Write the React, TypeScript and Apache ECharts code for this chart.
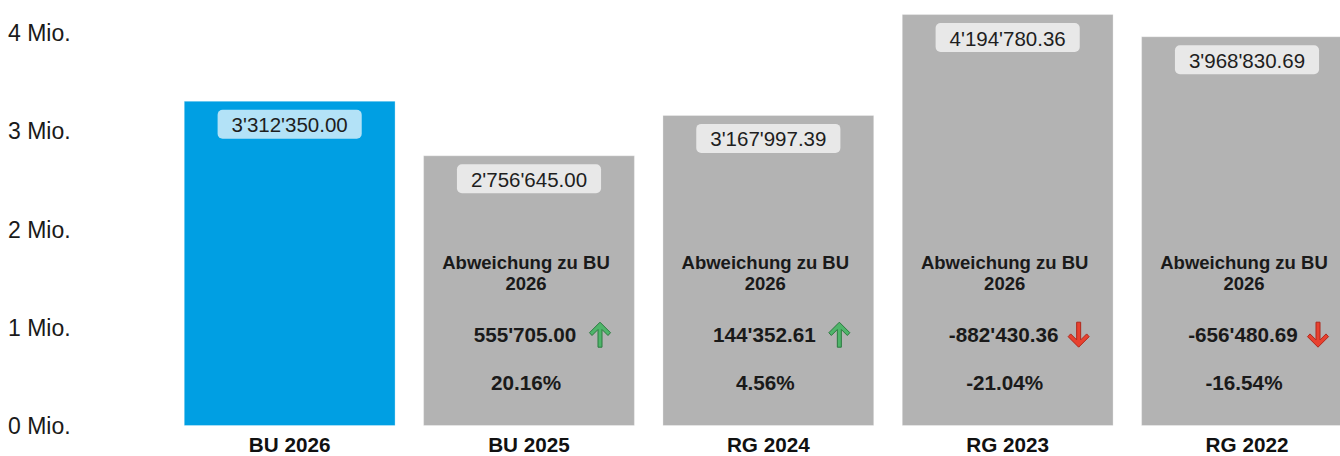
import React, { useEffect, useRef } from "react";
import * as echarts from "echarts";

const categories = ["BU 2026", "BU 2025", "RG 2024", "RG 2023", "RG 2022"];
const values = [3312350.0, 2756645.0, 3167997.39, 4194780.36, 3968830.69];
const deviations = [null, 555705.0, 144352.61, -882430.36, -656480.69];
const deviationPct = [null, 20.16, 4.56, -21.04, -16.54];
const yTickValues = [0, 1000000, 2000000, 3000000, 4000000];
const deviationHeader = "Abweichung zu BU\n2026";

const FONT = '"Liberation Sans", Arial, Helvetica, sans-serif';
const BLUE = "#009fe3";
const GRAY = "#b3b3b3";

function fmt(v: number): string {
  const neg = v < 0;
  const s = Math.abs(v).toFixed(2);
  const parts = s.split(".");
  const withSep = parts[0].replace(/\B(?=(\d{3})+(?!\d))/g, "'");
  return (neg ? "-" : "") + withSep + "." + parts[1];
}

const arrowUp: number[][] = [
  [0, -12.5],
  [10.5, -2],
  [8, 0.8],
  [2, -5.2],
  [2, 12.5],
  [-2, 12.5],
  [-2, -5.2],
  [-8, 0.8],
  [-10.5, -2],
];
const arrowDown = arrowUp.map((p) => [p[0], -p[1]]);

export default function App() {
  const ref = useRef<HTMLDivElement>(null);

  useEffect(() => {
    if (!ref.current) return;
    const chart = echarts.init(ref.current, null, { renderer: "svg" });

    const devIdx: number[] = [];
    categories.forEach((_, i) => {
      if (deviations[i] !== null) devIdx.push(i);
    });
    const devData = devIdx.map((i) => [categories[i], 0]);

    chart.setOption({
      animation: false,
      backgroundColor: "#ffffff",
      grid: { left: 170, right: 33.33, top: 13.56, bottom: 30, containLabel: false },
      xAxis: {
        type: "category",
        data: categories,
        axisLine: { show: false },
        axisTick: { show: false },
        axisLabel: {
          margin: 8,
          fontFamily: FONT,
          fontWeight: "bold",
          fontSize: 20.7,
          color: "#111111",
        },
      },
      yAxis: {
        type: "value",
        min: 0,
        max: 4200000,
        interval: 1000000,
        splitLine: { show: false },
        axisLine: { show: false },
        axisTick: { show: false },
        axisLabel: {
          align: "left",
          margin: 162,
          fontFamily: FONT,
          fontSize: 23,
          color: "#1a1a1a",
          formatter: (v: number) =>
            yTickValues.indexOf(v) >= 0 ? `${v / 1000000} Mio.` : "",
        },
      },
      series: [
        {
          type: "bar",
          barWidth: "88.5%",
          data: values.map((v, i) => ({
            value: v,
            itemStyle: {
              color: i === 0 ? BLUE : GRAY,
              borderColor: "rgba(255,255,255,0.3)",
              borderWidth: 1,
            },
          })),
          label: {
            show: true,
            position: "insideTop",
            distance: 9,
            formatter: (p: any) => fmt(p.value),
            fontFamily: FONT,
            fontSize: 20.5,
            lineHeight: 22,
            color: "#1e1e1e",
            backgroundColor: "rgba(255,255,255,0.7)",
            borderRadius: 5,
            padding: [4, 14, 3, 14],
          },
        },
        {
          type: "custom",
          clip: false,
          silent: true,
          z: 10,
          encode: { x: 0, y: 1 },
          data: devData,
          renderItem: (params: any, api: any) => {
            const idx = devIdx[params.dataIndex];
            if (idx === undefined) return null;
            const pt = api.coord([idx, 0]);
            const cx = pt[0];
            const by = pt[1];
            const dev = deviations[idx] as number;
            const pct = deviationPct[idx] as number;
            const up = dev >= 0;
            return {
              type: "group",
              children: [
                {
                  type: "text",
                  x: cx - 3,
                  y: by - 152.8,
                  style: {
                    text: deviationHeader,
                    align: "center",
                    verticalAlign: "middle",
                    fontFamily: FONT,
                    fontWeight: "bold",
                    fontSize: 18.5,
                    lineHeight: 21,
                    fill: "#1a1a1a",
                  },
                },
                {
                  type: "text",
                  x: cx - 4,
                  y: by - 91.3,
                  style: {
                    text: fmt(dev),
                    align: "center",
                    verticalAlign: "middle",
                    fontFamily: FONT,
                    fontWeight: "bold",
                    fontSize: 20.7,
                    fill: "#1a1a1a",
                  },
                },
                {
                  type: "polygon",
                  x: cx + 71,
                  y: by - 91.3,
                  shape: { points: up ? arrowUp : arrowDown },
                  style: {
                    fill: up ? "#4fb56a" : "#e8412f",
                    stroke: up ? "#2b7a3f" : "#b0281c",
                    lineWidth: 1,
                  },
                },
                {
                  type: "text",
                  x: cx - 3,
                  y: by - 43.2,
                  style: {
                    text: pct.toFixed(2) + "%",
                    align: "center",
                    verticalAlign: "middle",
                    fontFamily: FONT,
                    fontWeight: "bold",
                    fontSize: 20.7,
                    fill: "#1a1a1a",
                  },
                },
              ],
            };
          },
        },
      ],
    });

    return () => chart.dispose();
  }, []);

  return (
    <div
      style={{
        position: "fixed",
        left: 0,
        top: 0,
        width: "100vw",
        height: 456,
        overflow: "hidden",
        background: "#ffffff",
      }}
    >
      <div ref={ref} style={{ width: 1400, height: 456 }} />
    </div>
  );
}
